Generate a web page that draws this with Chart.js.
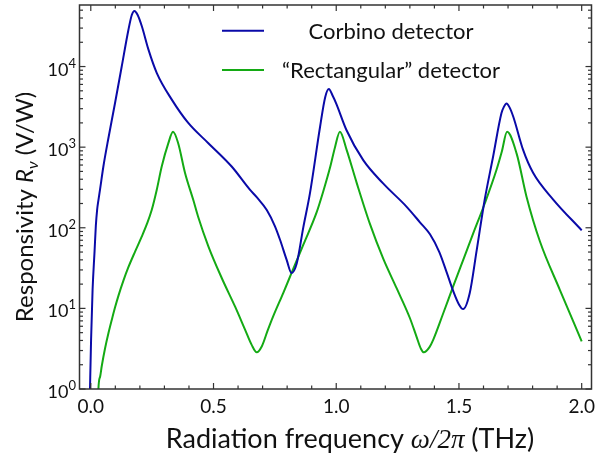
<!DOCTYPE html>
<html>
<head>
<meta charset="utf-8">
<script src="https://cdn.jsdelivr.net/npm/chart.js@4.4.1/dist/chart.umd.min.js"></script>
<style>
  html, body { margin: 0; padding: 0; background: #fff; }
</style>
</head>
<body>
<canvas id="chart" width="595" height="462"></canvas>
<script>
// Corbino detector (blue)
const corbinoX = [-0.004, 0.0012, 0.0073, 0.0155, 0.0205, 0.0257, 0.031, 0.0379, 0.0513, 0.0717, 0.099, 0.126, 0.153, 0.167, 0.178, 0.191, 0.208, 0.235, 0.269, 0.33, 0.397, 0.479, 0.574, 0.649, 0.676, 0.717, 0.75, 0.771, 0.798, 0.818, 0.839, 0.866, 0.893, 0.934, 0.955, 0.970, 0.985, 1.0, 1.042, 1.110, 1.191, 1.287, 1.341, 1.382, 1.42, 1.45, 1.476, 1.50, 1.517, 1.544, 1.572, 1.605, 1.639, 1.673, 1.683, 1.694, 1.705, 1.721, 1.761, 1.802, 1.884, 2.0];
const corbinoY = [0.79, 4.1, 17, 52, 105, 166, 219, 302, 575, 1290, 3550, 10000, 28200, 43600, 49000, 43600, 31600, 16200, 8300, 3890, 2000, 1120, 575, 295, 240, 166, 105, 71, 40, 27.5, 36, 102, 269, 1780, 4170, 5250, 4370, 3470, 1620, 690, 355, 182, 117, 83, 50, 28, 16.6, 11.2, 9.8, 15.5, 52, 224, 760, 2630, 3160, 3470, 3160, 2400, 930, 480, 224, 93];

// "Rectangular" detector (green)
const rectX = [0.030, 0.0311, 0.0379, 0.0447, 0.0582, 0.0718, 0.0854, 0.0989, 0.1125, 0.1329, 0.1532, 0.1804, 0.2075, 0.2279, 0.2482, 0.2686, 0.289, 0.316, 0.335, 0.356, 0.384, 0.418, 0.437, 0.479, 0.533, 0.588, 0.628, 0.655, 0.676, 0.697, 0.72, 0.743, 0.784, 0.818, 0.866, 0.920, 0.947, 0.975, 0.995, 1.015, 1.042, 1.083, 1.138, 1.191, 1.246, 1.300, 1.327, 1.345, 1.357, 1.38, 1.395, 1.436, 1.476, 1.517, 1.558, 1.605, 1.653, 1.675, 1.696, 1.735, 1.775, 1.83, 1.911, 2.0];
const rectY = [0.63, 1.0, 1.42, 1.93, 3.2, 4.91, 7.18, 10.3, 14.3, 22.1, 32.4, 50.6, 77.6, 110, 166, 294, 575, 1120, 1550, 1120, 479, 219, 138, 58.9, 24, 10.5, 5.5, 3.55, 2.85, 3.39, 5.25, 7.94, 15.5, 27.5, 61.7, 155, 282, 562, 1000, 1550, 933, 363, 110, 41.7, 17.8, 7.6, 4.47, 3.16, 2.85, 3.31, 4.07, 8.7, 18.6, 39.8, 85, 200, 525, 891, 1550, 832, 245, 67.6, 17, 3.9];

const seriesNames = ['Corbino detector', '\u201cRectangular\u201d detector'];
const seriesColors = ['#0a0aa8', '#14aa14'];

const xTickValues = [0, 0.5, 1.0, 1.5, 2.0];
const xTickLabels = ['0.0', '0.5', '1.0', '1.5', '2.0'];
const yTickExponents = [0, 1, 2, 3, 4];

const FONT = 'Lato, "Open Sans", sans-serif';

// frame, inward ticks, tick labels, axis titles, legend
const decorPlugin = {
  id: 'decor',
  afterDraw(chart) {
    const { ctx, chartArea: a, scales: { x, y } } = chart;
    ctx.save();
    ctx.strokeStyle = '#333';
    ctx.lineWidth = 1.5;
    ctx.strokeRect(a.left, a.top, a.right - a.left, a.bottom - a.top);

    const line = (x1, y1, x2, y2) => {
      ctx.beginPath(); ctx.moveTo(x1, y1); ctx.lineTo(x2, y2); ctx.stroke();
    };

    // x ticks (every 0.1, major every 0.5)
    ctx.lineWidth = 1.2;
    for (let i = 0; i <= 20; i++) {
      const px = x.getPixelForValue(i / 10);
      const len = i % 5 === 0 ? 6 : 3.5;
      line(px, a.bottom, px, a.bottom - len);
      line(px, a.top, px, a.top + len);
    }
    // y ticks (log)
    for (let e = 0; e <= 4; e++) {
      for (let k = 1; k <= 9; k++) {
        const v = k * Math.pow(10, e);
        if (v > y.max) break;
        const py = y.getPixelForValue(v);
        const len = k === 1 ? 6 : 3.5;
        line(a.left, py, a.left + len, py);
        line(a.right, py, a.right - len, py);
      }
    }

    // x tick labels
    ctx.fillStyle = '#111';
    ctx.font = '19px ' + FONT;
    ctx.textAlign = 'center';
    ctx.textBaseline = 'alphabetic';
    xTickValues.forEach((v, i) => {
      ctx.fillText(xTickLabels[i], x.getPixelForValue(v), a.bottom + 24);
    });

    // y tick labels 10^n
    yTickExponents.forEach(n => {
      const py = y.getPixelForValue(Math.pow(10, n));
      ctx.textAlign = 'right';
      ctx.font = '13px ' + FONT;
      const sup = String(n);
      const sw = ctx.measureText(sup).width;
      ctx.fillText(sup, 76, py + 1);
      ctx.font = '18px ' + FONT;
      ctx.fillText('10', 76 - sw, py + 9);
    });

    // x title with italic omega/2pi
    const parts = [
      ['Radiation frequency ', '27px ' + FONT],
      ['\u03c9/2\u03c0', 'italic 27px "Liberation Serif", serif'],
      [' (THz)', '27px ' + FONT]
    ];
    let total = 0;
    parts.forEach(p => { ctx.font = p[1]; total += ctx.measureText(p[0]).width; });
    let cx = 350 - total / 2;
    ctx.textAlign = 'left';
    parts.forEach(p => {
      ctx.font = p[1]; ctx.fillText(p[0], cx, 448); cx += ctx.measureText(p[0]).width;
    });

    // y title, rotated
    ctx.save();
    ctx.translate(33, 207);
    ctx.rotate(-Math.PI / 2);
    const yparts = [
      ['Responsivity ', '24px ' + FONT, 0],
      ['R', 'italic 24px ' + FONT, 0],
      ['\u03bd', 'italic 16px ' + FONT, 5],
      [' (V/W)', '24px ' + FONT, 0]
    ];
    total = 0;
    yparts.forEach(p => { ctx.font = p[1]; total += ctx.measureText(p[0]).width; });
    cx = -total / 2;
    yparts.forEach(p => {
      ctx.font = p[1]; ctx.fillText(p[0], cx, p[2]); cx += ctx.measureText(p[0]).width;
    });
    ctx.restore();

    // legend
    ctx.font = '22px ' + FONT;
    ctx.textAlign = 'center';
    chart.data.datasets.forEach((ds, i) => {
      const ly = [30.7, 70][i];
      ctx.strokeStyle = ds.borderColor;
      ctx.lineWidth = 2;
      line(222, ly, 264, ly);
      ctx.fillStyle = '#111';
      ctx.fillText(ds.label, 391, ly + 8);
    });
    ctx.restore();
  }
};

const toPoints = (xs, ys) => xs.map((v, i) => ({ x: v, y: ys[i] }));

new Chart(document.getElementById('chart'), {
  type: 'line',
  data: {
    datasets: [
      {
        label: seriesNames[0],
        data: toPoints(corbinoX, corbinoY),
        borderColor: seriesColors[0],
        borderWidth: 2,
        pointRadius: 0,
        cubicInterpolationMode: 'monotone',
        fill: false
      },
      {
        label: seriesNames[1],
        data: toPoints(rectX, rectY),
        borderColor: seriesColors[1],
        borderWidth: 2,
        pointRadius: 0,
        cubicInterpolationMode: 'monotone',
        fill: false
      }
    ]
  },
  options: {
    responsive: false,
    animation: false,
    devicePixelRatio: 1,
    layout: { padding: { left: 79.5, right: 3.5, top: 5, bottom: 73 } },
    plugins: { legend: { display: false }, tooltip: { enabled: false } },
    scales: {
      x: { type: 'linear', display: false, min: -0.046, max: 2.04 },
      y: { type: 'logarithmic', display: false, min: 1, max: 58000 }
    }
  },
  plugins: [decorPlugin]
});
</script>
</body>
</html>
